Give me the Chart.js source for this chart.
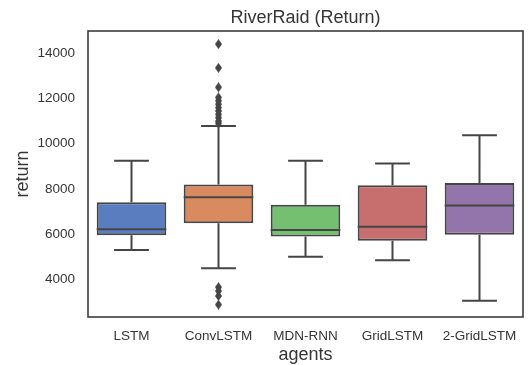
<!DOCTYPE html>
<html>
<head>
<meta charset="utf-8">
<script src="https://cdn.jsdelivr.net/npm/chart.js@4/dist/chart.umd.min.js"></script>
<style>
  html, body { margin: 0; padding: 0; background: #fff; }
  #wrap { width: 528px; height: 365px; }
</style>
</head>
<body>
<div id="wrap"><canvas id="chart" width="528" height="365"></canvas></div>
<script>
/* data */
const agents = ['LSTM', 'ConvLSTM', 'MDN-RNN', 'GridLSTM', '2-GridLSTM'];
const whiskerLow  = [5300, 4490, 5000, 4840, 3050];
const q1          = [5950, 6480, 5890, 5710, 5970];
const median      = [6210, 7630, 6180, 6330, 7270];
const q3          = [7410, 8200, 7300, 8160, 8260];
const whiskerHigh = [9250, 10780, 9250, 9130, 10370];

const outlierAgents = ['ConvLSTM', 'ConvLSTM', 'ConvLSTM', 'ConvLSTM', 'ConvLSTM', 'ConvLSTM',
  'ConvLSTM', 'ConvLSTM', 'ConvLSTM', 'ConvLSTM', 'ConvLSTM', 'ConvLSTM',
  'ConvLSTM', 'ConvLSTM', 'ConvLSTM', 'ConvLSTM'];
const outlierValues = [14410, 13360, 12500, 12050, 11900, 11750, 11600, 11450,
  11300, 11150, 11000, 10900, 3650, 3480, 3260, 2880];

const yTicks = [4000, 6000, 8000, 10000, 12000, 14000];
const boxColors = ['#597dbf', '#d98b5f', '#75bf71', '#c76e6e', '#9475ab'];
const lineColor = '#454545';
const textColor = '#363636';
const fontFamily = '"Liberation Sans", Arial, sans-serif';

// thin diamond like matplotlib's 'd' marker
const diamond = document.createElement('canvas');
diamond.width = 7;
diamond.height = 10;
const dctx = diamond.getContext('2d');
dctx.fillStyle = lineColor;
dctx.beginPath();
dctx.moveTo(3.5, 0);
dctx.lineTo(7, 5);
dctx.lineTo(3.5, 10);
dctx.lineTo(0, 5);
dctx.closePath();
dctx.fill();

// whiskers, caps, median and the frame round the plot
const boxPlugin = {
  id: 'boxParts',
  afterDatasetsDraw(chart) {
    const ctx = chart.ctx;
    const y = chart.scales.y;
    const bars = chart.getDatasetMeta(0).data;
    ctx.save();
    ctx.strokeStyle = lineColor;
    ctx.lineWidth = 2;
    bars.forEach((bar, i) => {
      const x = bar.x;
      const half = bar.width / 2;
      const cap = bar.width / 4;
      const yLow = y.getPixelForValue(whiskerLow[i]);
      const yQ1 = y.getPixelForValue(q1[i]);
      const yMed = y.getPixelForValue(median[i]);
      const yQ3 = y.getPixelForValue(q3[i]);
      const yHigh = y.getPixelForValue(whiskerHigh[i]);
      ctx.beginPath();
      ctx.moveTo(x, yQ3); ctx.lineTo(x, yHigh);
      ctx.moveTo(x - cap, yHigh); ctx.lineTo(x + cap, yHigh);
      ctx.moveTo(x, yQ1); ctx.lineTo(x, yLow);
      ctx.moveTo(x - cap, yLow); ctx.lineTo(x + cap, yLow);
      ctx.moveTo(x - half, yMed); ctx.lineTo(x + half, yMed);
      ctx.stroke();
    });
    const a = chart.chartArea;
    ctx.lineWidth = 1.6;
    ctx.strokeStyle = '#3c3c3c';
    ctx.strokeRect(a.left, a.top, a.right - a.left, a.bottom - a.top);
    ctx.restore();
  }
};

const ctx = document.getElementById('chart').getContext('2d');
const chart = new Chart(ctx, {
  type: 'bar',
  data: {
    labels: agents,
    datasets: [{
      label: 'box',
      data: agents.map((a, i) => [q1[i], q3[i]]),
      backgroundColor: boxColors,
      borderColor: lineColor,
      borderWidth: 2,
      borderSkipped: false,
      categoryPercentage: 1,
      barPercentage: 0.8,
      order: 2
    }, {
      type: 'scatter',
      label: 'outliers',
      data: outlierAgents.map((a, i) => ({ x: a, y: outlierValues[i] })),
      pointStyle: diamond,
      order: 1
    }]
  },
  options: {
    responsive: false,
    animation: false,
    layout: { padding: { left: 0, right: 5, top: 0, bottom: 0 } },
    plugins: {
      legend: { display: false },
      tooltip: { enabled: false }
    },
    scales: {
      // empty top axis, only used so the title sits centred over the plot
      top: {
        type: 'category',
        labels: agents,
        position: 'top',
        grid: { display: false },
        border: { display: false },
        ticks: { display: false },
        title: {
          display: true,
          text: 'RiverRaid (Return)',
          color: textColor,
          font: { family: fontFamily, size: 18 },
          padding: { top: 7, bottom: 0 }
        },
        afterFit(scale) { scale.height = 31; }
      },
      x: {
        grid: { display: false },
        border: { display: false },
        ticks: { color: textColor, padding: 3, font: { family: fontFamily, size: 13.5 } },
        title: {
          display: true,
          text: 'agents',
          color: textColor,
          font: { family: fontFamily, size: 18 },
          padding: { top: 0, bottom: -1 }
        },
        afterFit(scale) { scale.height = 48; }
      },
      y: {
        min: 2330,
        max: 14990,
        grid: { display: false },
        border: { display: false },
        ticks: {
          color: textColor,
          padding: 5,
          font: { family: fontFamily, size: 13.5 },
          callback: v => String(v)
        },
        afterBuildTicks(scale) { scale.ticks = yTicks.map(v => ({ value: v })); },
        title: {
          display: true,
          text: 'return',
          color: textColor,
          font: { family: fontFamily, size: 18 },
          padding: { top: 12, bottom: 0 }
        },
        afterFit(scale) { scale.width = 88; }
      }
    }
  },
  plugins: [boxPlugin]
});
</script>
</body>
</html>
